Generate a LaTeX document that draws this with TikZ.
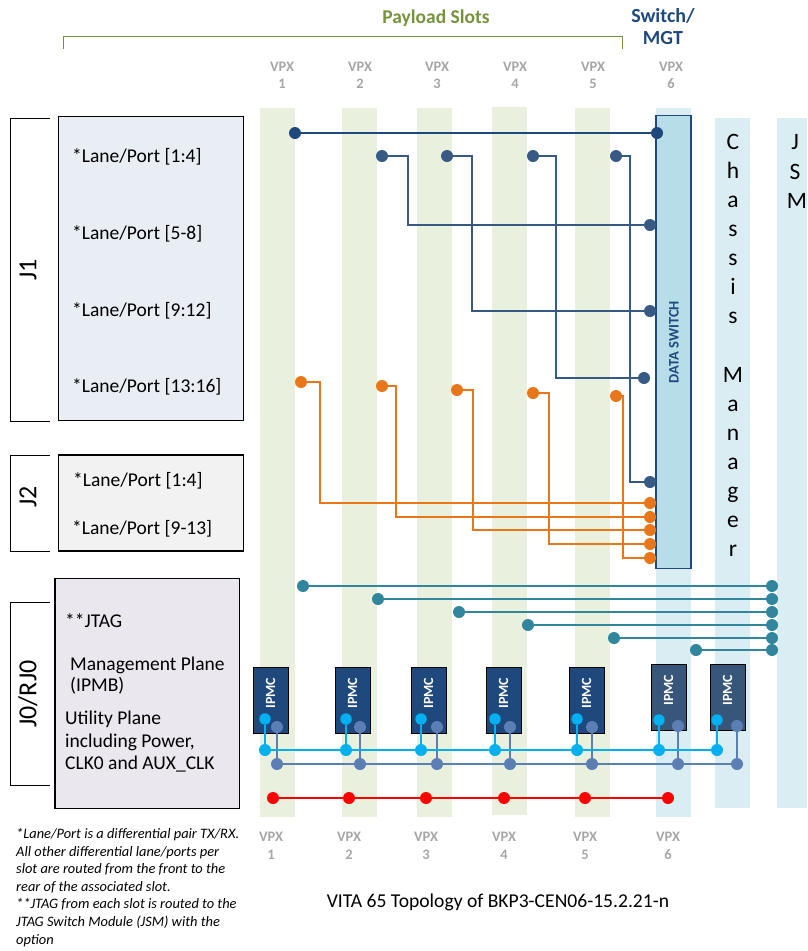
\documentclass[tikz,border=0pt]{standalone}
\usepackage{fontspec}
\setmainfont{Carlito}
\definecolor{slotg}{HTML}{EAF0DE}
\definecolor{slotb}{HTML}{DAEDF3}
\definecolor{swfill}{HTML}{B7DDE8}
\definecolor{navy}{HTML}{1F497D}
\definecolor{navyb}{HTML}{375A84}
\definecolor{ipmcb}{HTML}{375679}
\definecolor{tealc}{HTML}{31859C}
\definecolor{orangec}{HTML}{E97618}
\definecolor{cyanc}{HTML}{00B0F0}
\definecolor{steel}{HTML}{5B7FB4}
\definecolor{olive}{HTML}{76933C}
\definecolor{vpxg}{HTML}{A6A6A6}
\definecolor{jonef}{HTML}{E9EDF4}
\definecolor{jtwof}{HTML}{F2F2F2}
\definecolor{jzerof}{HTML}{EBE7EE}
\tikzset{
 x=1pt,y=-1pt,
 fs/.style={font=\fontsize{#1}{#1}\selectfont},
 panel/.style={draw=black,line width=1.4pt,fill=#1,inner sep=0pt,outer sep=0pt,anchor=north west},
 brack/.style={draw=black,line width=1pt},
 dotn/.style={circle,fill=#1,inner sep=0pt,minimum size=12pt,draw=none},
 wire/.style={draw=#1,line width=2pt},
 lab/.style={anchor=west,inner sep=0pt,fs=19.5},
 vpx/.style={font=\fontsize{14.5}{17.5}\selectfont\bfseries,text=vpxg,align=center,inner sep=0pt},
 ltr/.style={fs=23.5,inner sep=0pt,anchor=base},
 ipmc/.style={draw=black,line width=1pt,fill=#1,minimum width=35pt,minimum height=66pt,inner sep=0pt,outer sep=0pt,anchor=north west},
 ipmct/.style={rotate=90,text=white,font=\fontsize{14}{14}\selectfont\bfseries,inner sep=0pt},
 jlab/.style={rotate=90,fs=26,inner sep=0pt},
}
\begin{document}
\begin{tikzpicture}
\useasboundingbox (0,0) rectangle (807,951);
% slot bars
\foreach \a/\t/\b in {260/108/817,342/108/817,417/108/817,492/107/815,575/108/817}
  \fill[slotg] (\a,\t) rectangle (\a+35,\b);
\fill[slotb] (656,108) rectangle (691,817);
\fill[slotb] (715,118) rectangle (750,808);
\fill[slotb] (777,118) rectangle (807,808);
% switch
\node[draw=navy,line width=1.2pt,fill=swfill,minimum width=35pt,minimum height=453pt,inner sep=0pt,outer sep=0pt,anchor=north west] (sw) at (656,115.5) {};
\node[rotate=90,text=navy,font=\fontsize{14.5}{14.5}\selectfont\bfseries,inner sep=0pt] (swt) at (674,342) {DATA SWITCH};
% headers
\coordinate (gl) at (63,49); \coordinate (gr) at (622,49); \coordinate (gt) at (63,36);
\draw[draw=olive,line width=1pt] (gl) -- (gt) -| (gr);
\node[font=\fontsize{19.5}{19.5}\selectfont\bfseries,text=olive,inner sep=0pt] (payload) at (436,18) {Payload Slots};
\node[font=\fontsize{20}{22}\selectfont\bfseries,text=navy,align=center,inner sep=0pt] (swmgt) at (663,27) {Switch/\\MGT};
\foreach \x/\n in {282/1,360/2,437/3,515/4,593/5,671/6}
  \node[vpx] (vt\n) at (\x,75.5) {VPX\\\n};
\foreach \x/\n in {271/1,349/2,426/3,504/4,585/5,668/6}
  \node[vpx] (vb\n) at (\x,846) {VPX\\\n};
% panels
\node[panel=jonef,minimum width=184.6pt,minimum height=304pt] (j1box) at (58.7,116.7) {};
\node[panel=jtwof,minimum width=184.6pt,minimum height=96pt] (j2box) at (58.7,455) {};
\node[panel=jzerof,minimum width=184.7pt,minimum height=230.4pt] (j0box) at (55,578.3) {};
\draw[brack] (50,118) -- (10,118) -- (10,421) -- (50,421);
\draw[brack] (50,455) -- (10,455) -- (10,551) -- (50,551);
\draw[brack] (50,602) -- (10,602) -- (10,785) -- (50,785);
\node[jlab] (j1) at (28,270) {J1};
\node[jlab] (j2) at (28,497) {J2};
\node[jlab] (j0) at (28,694) {J0/RJ0};
% panel text
\node[lab] (l1) at (72,157) {*Lane/Port [1:4]};
\node[lab] (l2) at (72,233.5) {*Lane/Port [5-8]};
\node[lab] (l3) at (72,310.5) {*Lane/Port [9:12]};
\node[lab] (l4) at (72,387) {*Lane/Port [13:16]};
\node[lab] (l5) at (73,480.5) {*Lane/Port [1:4]};
\node[lab] (l6) at (72,528.5) {*Lane/Port [9-13]};
\node[lab] (l7) at (65,621) {**JTAG};
\node[lab] (l8) at (70,665) {Management Plane};
\node[lab] (l9) at (70,686) {(IPMB)};
\node[lab] (l10) at (65,719) {Utility Plane};
\node[lab] (l11) at (65,742) {including Power,};
\node[lab] (l12) at (65,764) {CLK0 and AUX\_CLK};
% side letters
\foreach \c/\n [count=\i] in {C/0,h/1,a/2,s/3,s/4,i/5,s/6,M/8,a/9,n/10,a/11,g/12,e/13,r/14}
  \node[ltr] (cm\i) at (733,149+29.14*\n) {\c};
\foreach \c/\x/\y [count=\i] in {J/795/149,S/795/179,M/797/208}
  \node[ltr] (js\i) at (\x,\y) {\c};
% blue wires
\node[dotn=navy] (b1s) at (295,133) {};
\node[dotn=navy] (b1e) at (657,133) {};
\draw[wire=navy] (b1s) -- (b1e);
\foreach \i/\sx/\sy/\mx/\ey/\ex in {2/382/156/408/225/650,3/447/156/472/311/650,4/533/156/556/378/644,5/616/156/630/482/650}{
  \node[dotn=navyb] (b\i s) at (\sx,\sy) {};
  \node[dotn=navyb] (b\i e) at (\ex,\ey) {};
  \coordinate (b\i m) at (\mx,\sy+20);
  \draw[wire=navyb] (b\i s) -| (b\i m) |- (b\i e);
}
% orange wires
\foreach \i/\sx/\sy/\mx/\ey in {1/301/382/320/503,2/382/386/396/517,3/457/390/473/530,4/533/393/549/544,5/616/396/623/558}{
  \node[dotn=orangec] (o\i s) at (\sx,\sy) {};
  \node[dotn=orangec] (o\i e) at (650,\ey) {};
  \coordinate (o\i m) at (\mx,\sy+20);
  \draw[wire=orangec] (o\i s) -| (o\i m) |- (o\i e);
}
% teal wires
\foreach \i/\sx/\y in {1/303/586,2/378/599,3/459/612,4/528/625,5/614/638,6/696/650}{
  \node[dotn=tealc] (t\i s) at (\sx,\y) {};
  \node[dotn=tealc] (t\i e) at (772,\y) {};
  \draw[wire=tealc] (t\i s) -- (t\i e);
}
% IPMC boxes
\foreach \i/\bx/\by/\f/\cx/\cy/\sx/\sy in {1/253/667/navy/265/719/277/727,2/335/667/navy/346/719/360/727,3/411/667/navy/421/719/437/727,4/486/667/navy/495/719/510/727,5/569/667/navy/577/719/592/727,6/651/664/ipmcb/659/720/678/726,7/710/664/ipmcb/717/720/737/726}{
  \node[ipmc=\f] (ip\i) at (\bx,\by) {};
  \node[ipmct] (ipt\i) at ([yshift=7pt]ip\i.center) {IPMC};
  \node[dotn=cyanc,minimum size=11.5pt] (ca\i) at (\cx,\cy) {};
  \node[dotn=steel] (sa\i) at (\sx,\sy) {};
  \node[dotn=cyanc] (cb\i) at (\cx,750) {};
  \node[dotn=steel] (sb\i) at (\sx,764) {};
  \draw[wire=cyanc] (ca\i) -- (cb\i);
  \draw[wire=steel] (sa\i) -- (sb\i);
}
\foreach \i [remember=\i as \j (initially 1)] in {2,...,7}{
  \draw[wire=cyanc] (cb\j) -- (cb\i);
  \draw[wire=steel] (sb\j) -- (sb\i);
}
% red
\foreach \i/\x in {1/273,2/349,3/426,4/504,5/585,6/668}
  \node[dotn=red] (r\i) at (\x,798) {};
\foreach \i [remember=\i as \j (initially 1)] in {2,...,6}
  \draw[wire=red] (r\j) -- (r\i);
% footnote & title
\node[anchor=north west,inner sep=0pt,align=left,font=\fontsize{14.4}{17.6}\selectfont\itshape] (note) at (16,828) {*Lane/Port is a differential pair TX/RX.\\All other differential lane/ports per\\slot are routed from the front to the\\rear of the associated slot.\\**JTAG from each slot is routed to the\\JTAG Switch Module (JSM) with the\\option};
\node[fs=19.6,inner sep=0pt] (title) at (498,902) {VITA 65 Topology of BKP3-CEN06-15.2.21-n};
\end{tikzpicture}
\end{document}
